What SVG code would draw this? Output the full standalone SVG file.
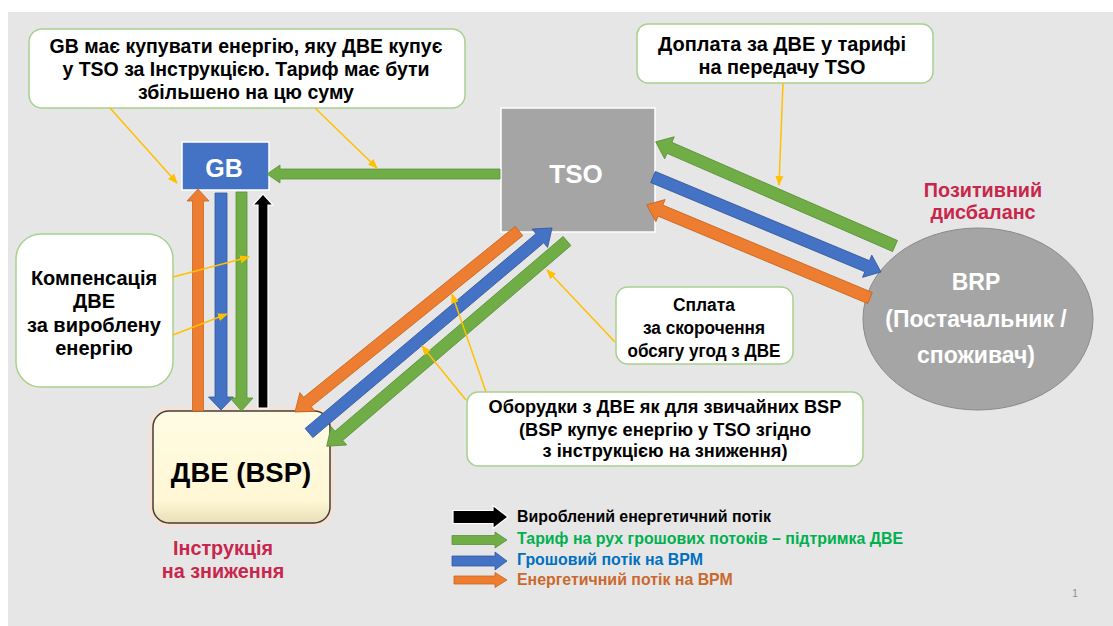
<svg xmlns="http://www.w3.org/2000/svg" width="1113" height="626" viewBox="0 0 1113 626">
<defs>
<style>
.t{font-family:"Liberation Sans",Arial,sans-serif;font-weight:bold;text-anchor:middle}
.tn{font-family:"Liberation Sans Narrow","Liberation Sans",Arial,sans-serif;font-weight:bold;text-anchor:middle}
.call{fill:#ffffff;stroke:#a9d18e;stroke-width:1.5}
.ag{fill:#70ad47;stroke:#5a9038;stroke-width:0.8}
.ab{fill:#4472c4;stroke:#34589c;stroke-width:0.8}
.ao{fill:#ed7d31;stroke:#c8661f;stroke-width:0.8}
.ak{fill:#000000;stroke:#ffffff;stroke-width:1.2}
.yl{stroke:#ffc000;stroke-width:1.5;fill:none;marker-end:url(#ym)}
.lg{font-family:"Liberation Sans",Arial,sans-serif;font-weight:bold;font-size:15.9px}
</style>
<marker id="ym" markerUnits="userSpaceOnUse" markerWidth="10" markerHeight="10" viewBox="0 0 10 10" refX="9" refY="5" orient="auto">
<path d="M0,1 L10,5 L0,9 Z" fill="#ffc000"/>
</marker>
<linearGradient id="dveg" x1="0" y1="0" x2="0" y2="1">
<stop offset="0" stop-color="#fffbe3"/>
<stop offset="0.8" stop-color="#fff7d5"/>
<stop offset="1" stop-color="#e9dfb8"/>
</linearGradient>
</defs>
<rect x="0" y="0" width="1113" height="626" fill="#ffffff"/>
<rect x="8" y="12" width="1105" height="614" fill="#e7e6e6"/>

<g id="node-gb">
<rect x="182" y="142" width="87" height="48" fill="#4472c4" stroke="#ffffff" stroke-width="1.5"/>
<text class="t" x="224" y="177" font-size="25" fill="#ffffff">GB</text>
</g>

<g id="node-tso">
<rect x="501" y="108" width="154" height="124" fill="#a5a5a5" stroke="#ffffff" stroke-width="1.5"/>
<text class="t" x="576" y="183" font-size="26" fill="#ffffff">TSO</text>
</g>

<g id="node-dve">
<rect x="153" y="411" width="177" height="112" rx="16" fill="none" stroke="#fbe0cf" stroke-width="7"/>
<rect x="153" y="411" width="177" height="112" rx="16" fill="url(#dveg)" stroke="#3f3f3f" stroke-width="1.5"/>
<text class="t" x="241" y="482" font-size="27.5" fill="#000000">ДВЕ (BSP)</text>
</g>

<g id="node-brp">
<ellipse cx="978" cy="319" rx="115" ry="91" fill="#a5a5a5" stroke="#8a8a8a" stroke-width="1"/>
<text class="t" x="976" y="290" font-size="23" fill="#ffffff">BRP</text>
<text class="t" x="976" y="327" font-size="23" fill="#ffffff">(Постачальник /</text>
<text class="t" x="976" y="363" font-size="23" fill="#ffffff">споживач)</text>
</g>

<g id="label-positive">
<text class="tn" x="983" y="197" font-size="19.8" fill="#c7274c">Позитивний</text>
<text class="tn" x="983" y="219" font-size="19.8" fill="#c7274c">дисбаланс</text>
</g>

<g id="label-instruction">
<text class="t" x="223" y="555" font-size="19.8" fill="#c7274c">Інструкція</text>
<text class="t" x="223" y="578" font-size="19.8" fill="#c7274c">на зниження</text>
</g>

<g id="callout-gb-tariff">
<rect class="call" x="29" y="29" width="436" height="79" rx="13"/>
<text class="t" x="246" y="53" font-size="19.5" fill="#000">GB має купувати енергію, яку ДВЕ купує</text>
<text class="t" x="246" y="76" font-size="19.5" fill="#000">у TSO за Інструкцією. Тариф має бути</text>
<text class="t" x="246" y="99" font-size="19.5" fill="#000">збільшено на цю суму</text>
</g>

<g id="callout-compensation">
<rect class="call" x="16" y="234" width="157" height="153" rx="25"/>
<text class="t" x="94" y="285" font-size="20" fill="#000">Компенсація</text>
<text class="t" x="94" y="308" font-size="20" fill="#000">ДВЕ</text>
<text class="t" x="94" y="332" font-size="20" fill="#000">за вироблену</text>
<text class="t" x="94" y="355" font-size="20" fill="#000">енергію</text>
</g>

<g id="callout-doplata">
<rect class="call" x="637" y="24" width="296" height="59" rx="11"/>
<text class="tn" x="782" y="51" font-size="20" fill="#000" textLength="248" lengthAdjust="spacingAndGlyphs">Доплата за ДВЕ у тарифі</text>
<text class="tn" x="782" y="74" font-size="20" fill="#000" textLength="167" lengthAdjust="spacingAndGlyphs">на передачу TSO</text>
</g>

<g id="callout-splata">
<rect class="call" x="616" y="287" width="177" height="77" rx="12"/>
<text class="tn" x="704" y="311" font-size="18" fill="#000" textLength="62" lengthAdjust="spacingAndGlyphs">Сплата</text>
<text class="tn" x="704" y="334" font-size="18" fill="#000" textLength="122" lengthAdjust="spacingAndGlyphs">за скорочення</text>
<text class="tn" x="704" y="357" font-size="18" fill="#000" textLength="153" lengthAdjust="spacingAndGlyphs">обсягу угод з ДВЕ</text>
</g>

<g id="callout-oborudky">
<rect class="call" x="467" y="392" width="396" height="74" rx="11"/>
<text class="t" x="665" y="413" font-size="18.2" fill="#000">Оборудки з ДВЕ як для звичайних BSP</text>
<text class="t" x="665" y="436" font-size="18.2" fill="#000">(BSP купує енергію у TSO згідно</text>
<text class="t" x="665" y="457" font-size="18.2" fill="#000">з інструкцією на зниження)</text>
</g>

<g id="connectors">
<polygon class="ag" points="0,-5 220,-5 220,-9 233,0 220,9 220,5 0,5" transform="translate(500,174) rotate(180)"/>
<polygon class="ao" points="0,-5.5 210,-5.5 210,-11 222,0 210,11 210,5.5 0,5.5" transform="translate(198,411) rotate(-90)"/>
<polygon class="ab" points="0,-6 204,-6 204,-12.5 217,0 204,12.5 204,6 0,6" transform="translate(221,193) rotate(90)"/>
<polygon class="ag" points="0,-5.5 206,-5.5 206,-11.5 219,0 206,11.5 206,5.5 0,5.5" transform="translate(241.5,192) rotate(90)"/>
<polygon class="ak" points="0,-5 203,-5 203,-10 214,0 203,10 203,5 0,5" transform="translate(263,408) rotate(-90)"/>
<polygon class="ao" points="0,-6 272,-6 272,-12 288,0 272,12 272,6 0,6" transform="translate(519,231) rotate(141.06)"/>
<polygon class="ab" points="0,-6 302,-6 302,-12 318,0 302,12 302,6 0,6" transform="translate(309,433) rotate(-40.15)"/>
<polygon class="ag" points="0,-6 300,-6 300,-12 316,0 300,12 300,6 0,6" transform="translate(567,241) rotate(139.5)"/>
<polygon class="ag" points="0,-6 246,-6 246,-12 261,0 246,12 246,6 0,6" transform="translate(895,246) rotate(-156.48)"/>
<polygon class="ab" points="0,-6 232,-6 232,-12 247,0 232,12 232,6 0,6" transform="translate(653,177) rotate(22.62)"/>
<polygon class="ao" points="0,-6 227,-6 227,-12 242,0 227,12 227,6 0,6" transform="translate(870,298) rotate(-157.36)"/>
<line class="yl" x1="110" y1="108" x2="177" y2="183"/>
<line class="yl" x1="315" y1="108" x2="377" y2="168"/>
<line class="yl" x1="783" y1="83" x2="779" y2="185"/>
<line class="yl" x1="173" y1="277" x2="249" y2="257"/>
<line class="yl" x1="173" y1="335" x2="227" y2="314"/>
<line class="yl" x1="615" y1="342" x2="547" y2="270"/>
<line class="yl" x1="486" y1="392" x2="452" y2="294"/>
<line class="yl" x1="466" y1="400" x2="422" y2="346"/>
</g>

<g id="legend">
<polygon class="ak" points="0,-6.5 40,-6.5 40,-11.5 55,0 40,11.5 40,6.5 0,6.5" transform="translate(453,517)"/>
<polygon class="ag" points="0,-4.5 43,-4.5 43,-8 55,0 43,8 43,4.5 0,4.5" transform="translate(452,540)"/>
<polygon class="ab" points="0,-5 43,-5 43,-9 55,0 43,9 43,5 0,5" transform="translate(452,561)"/>
<polygon class="ao" points="0,-4 41,-4 41,-7.5 53,0 41,7.5 41,4 0,4" transform="translate(454,580)"/>
<text class="lg" x="517" y="522" fill="#000000">Вироблений енергетичний потік</text>
<text class="lg" x="517" y="544" fill="#00b050">Тариф на рух грошових потоків – підтримка ДВЕ</text>
<text class="lg" x="517" y="565" fill="#0070c0">Грошовий потік на ВРМ</text>
<text class="lg" x="517" y="585" fill="#c9692f">Енергетичний потік на ВРМ</text>
</g>

<text x="1075" y="597" font-family="Liberation Sans,Arial,sans-serif" font-size="10" fill="#8c8c8c" text-anchor="middle">1</text>
</svg>
